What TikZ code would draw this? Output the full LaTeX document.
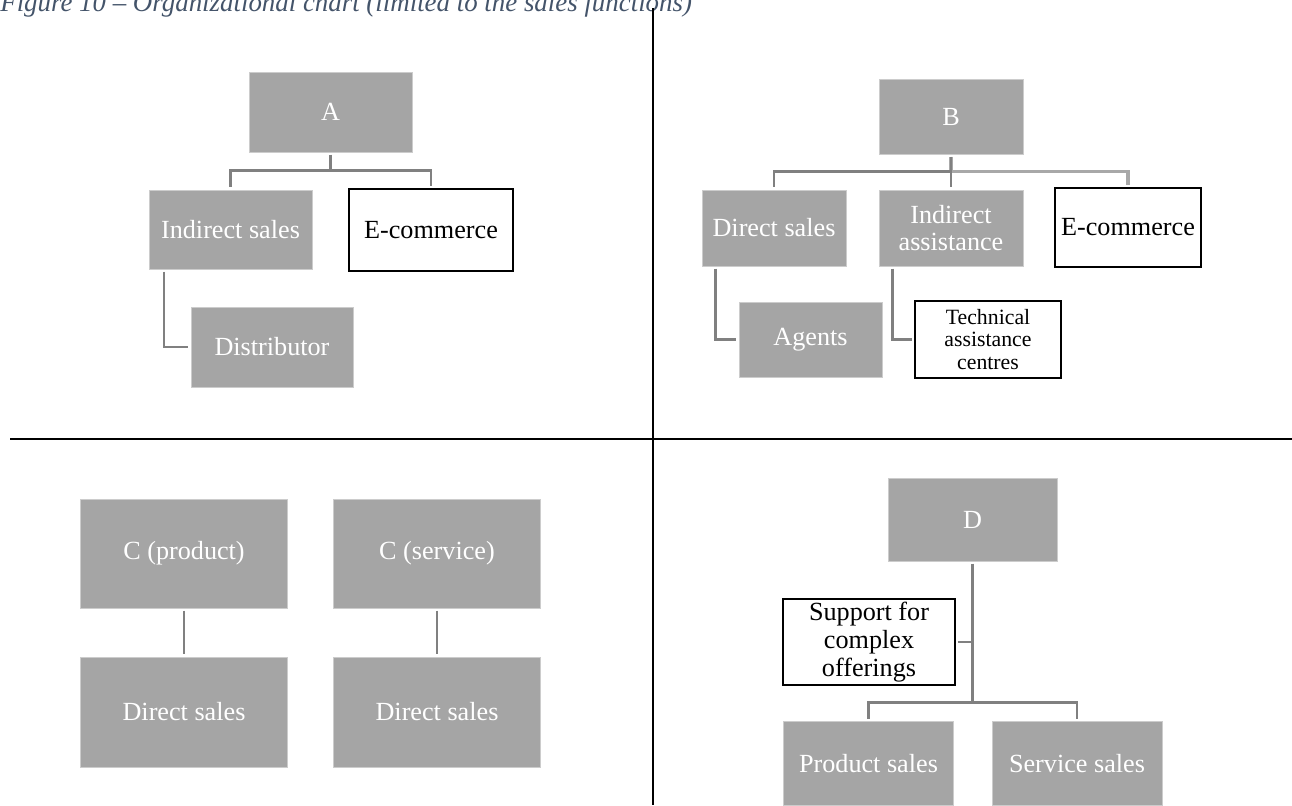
\documentclass[tikz,border=0pt]{standalone}
\usepackage{fontspec}
\setmainfont{Liberation Serif}
\definecolor{boxgray}{RGB}{165,165,165}
\definecolor{edgegray}{RGB}{204,204,204}
\definecolor{linkgray}{RGB}{128,128,128}
\definecolor{linklight}{RGB}{168,168,168}
\definecolor{capblue}{RGB}{68,84,106}
\tikzset{
  orgbox/.style={rectangle, fill=boxgray, draw=edgegray, line width=0.4pt, text=white,
    align=center, inner sep=0pt, outer sep=1.5pt, font=\fontsize{14.9}{15.8}\selectfont},
  outbox/.style={rectangle, fill=white, draw=black, line width=1.3pt, text=black,
    align=center, inner sep=0pt, outer sep=1.5pt, font=\fontsize{14.9}{15.8}\selectfont},
  link/.style={draw=linkgray, line width=1.4pt},
  linklt/.style={draw=linklight, line width=1.9pt},
  frame/.style={draw=black, line width=1.2pt}
}
\begin{document}
\begin{tikzpicture}[x=0.02cm, y=-0.02cm]
        \useasboundingbox (0,0) rectangle (1292,805);
        % caption, cut at the top
        \node[anchor=base west, inner sep=0pt, text=capblue, font=\itshape\fontsize{15.3}{16}\selectfont] (cap) at (0,11) {Figure 10 -- Organizational chart (limited to the sales functions)};
        % the four quarters
        \draw[frame] (653,8) -- (653,805);
        \draw[frame] (10,439) -- (1292,439);
        % A
        \node[orgbox, minimum width=3.26cm, minimum height=1.6cm] (A) at (330.5,112) {A};
        \node[orgbox, minimum width=3.26cm, minimum height=1.58cm] (indA) at (230.5,229.5) {Indirect sales};
        \node[outbox, minimum width=3.28cm, minimum height=1.64cm] (ecoA) at (431,230) {E-commerce};
        \node[orgbox, minimum width=3.24cm, minimum height=1.6cm] (distA) at (272,347) {Distributor};
        \draw[link] (A.south) -- ++(0,16) coordinate (jA) -| (indA.north);
        \draw[link] (jA) -| (ecoA.north);
        \draw[link] ([xshift=0.35cm]indA.south west) |- (distA.west);
        % B
        \node[orgbox, minimum width=2.88cm, minimum height=1.5cm] (B) at (951,116.5) {B};
        \node[orgbox, minimum width=2.88cm, minimum height=1.52cm] (dirB) at (774,228) {Direct sales};
        \node[orgbox, minimum width=2.88cm, minimum height=1.52cm] (indB) at (951,228) {Indirect\\assistance};
        \node[outbox, minimum width=2.92cm, minimum height=1.58cm] (ecoB) at (1128,227.5) {E-commerce};
        \node[orgbox, minimum width=2.86cm, minimum height=1.5cm] (agB) at (810.5,339.5) {Agents};
        \node[outbox, minimum width=2.92cm, minimum height=1.54cm, font=\fontsize{12.4}{13}\selectfont] (tecB) at (988,339.5) {Technical\\assistance\\centres};
        \draw[linklt] (B.south) -- ++(0,15) coordinate (jB) -| (ecoB.north);
        \draw[link] (B.south) -- (indB.north);
        \draw[link] (jB) -| (dirB.north);
        \draw[link] ([xshift=0.32cm]dirB.south west) |- (agB.west);
        \draw[link] ([xshift=0.32cm]indB.south west) |- (tecB.west);
        % C
        \node[orgbox, minimum width=4.14cm, minimum height=2.18cm] (Cp) at (184,553.5) {C (product)};
        \node[orgbox, minimum width=4.14cm, minimum height=2.18cm] (Cs) at (437,553.5) {C (service)};
        \node[orgbox, minimum width=4.14cm, minimum height=2.2cm] (dCp) at (184,712) {Direct sales};
        \node[orgbox, minimum width=4.14cm, minimum height=2.2cm] (dCs) at (437,712) {Direct sales};
        \draw[link] (Cp.south) -- (dCp.north);
        \draw[link] (Cs.south) -- (dCs.north);
        % D
        \node[orgbox, minimum width=3.38cm, minimum height=1.66cm] (D) at (972.5,519.5) {D};
        \node[outbox, minimum width=3.44cm, minimum height=1.72cm] (supD) at (869,642) {Support for\\complex\\offerings};
        \node[orgbox, minimum width=3.4cm, minimum height=1.68cm] (prD) at (868.5,763.5) {Product sales};
        \node[orgbox, minimum width=3.4cm, minimum height=1.68cm] (svD) at (1077,763.5) {Service sales};
        \draw[link] (D.south) -- ++(0,139) coordinate (jD) -| (prD.north);
        \draw[link] (jD) -| (svD.north);
        \draw[link] (supD.east) -- (supD.east -| D.south);
    \end{tikzpicture}
\end{document}
